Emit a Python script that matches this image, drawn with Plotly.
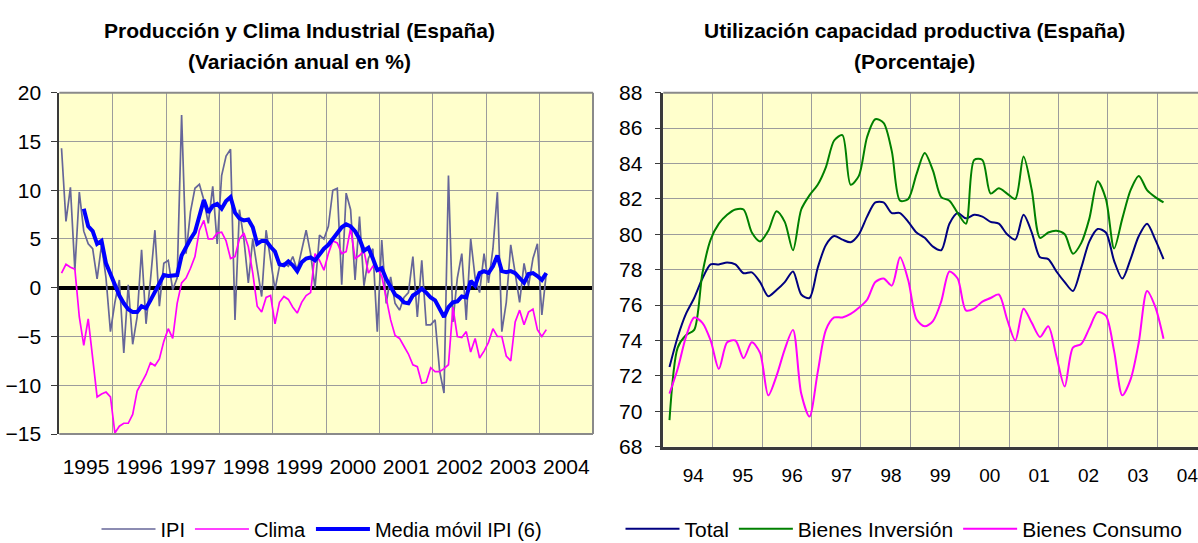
import plotly.graph_objects as go

# ---------------- Left chart data (monthly, Jan 1995 - Feb 2004) ----------------
ipi = [14.3, 6.8, 10.3, 1.8, 9.8, 5.8, 4.5, 4.0, 0.9, 4.4,
       1.0, -4.5, -1.5, 0.8, -6.7, 0.3, -5.8, -3.0, 3.9, -3.7,
       0.8, 5.9, -1.9, 2.5, 2.8, -0.2, 1.0, 17.7, 3.5, 7.8,
       10.2, 10.6, 9.0, 6.6, 10.4, 4.5, 11.5, 13.5, 14.2, -3.3,
       8.0, 5.0, 0.5, 5.0, 2.0, -0.9, 5.9, 3.0, -0.2, 2.2,
       2.5, 2.2, 3.2, 1.8, 4.0, 5.9, 3.5, 0.0, 5.4, 5.0,
       6.3, 10.0, 10.2, 0.3, 9.7, 8.0, 0.8, 7.3, 0.2, 3.0,
       4.0, -4.5, 4.9, -1.6, 1.1, -1.6, -2.3, -1.0, -0.5, 3.2,
       -3.0, 2.8, -3.8, -3.8, -3.3, -8.5, -10.8, 11.5, -3.5, 1.0,
       3.5, -3.3, 5.0, 1.0, -0.5, 3.5, 0.5, 4.0, 9.8, -4.5,
       -1.5, 4.4, 1.5, -1.5, 2.5, 0.2, 3.0, 4.5, -2.8, 1.5]

clima = [1.5, 2.4, 2.1, 1.9, -3.0, -5.9, -3.2, -7.5, -11.2, -10.9,
         -10.7, -11.2, -14.9, -14.2, -13.9, -13.9, -13.0, -10.6, -9.8, -8.9,
         -7.7, -8.0, -7.3, -5.5, -4.2, -5.2, -1.6, 0.5, 1.0, 2.0,
         3.2, 5.9, 6.9, 5.0, 5.0, 5.6, 5.7, 4.8, 3.0, 3.2,
         5.0, 5.6, 4.2, 1.5, -1.9, -2.5, -1.0, -0.8, -3.7, -1.5,
         -0.9, -1.2, -2.0, -2.6, -1.5, -0.8, -0.5, 3.5, 2.8, 1.8,
         3.5, 4.8, 4.6, 3.5, 3.7, 6.1, 3.0, 3.3, 3.8, 1.5,
         2.2, 2.0, 1.2, -1.2, -3.3, -4.9, -5.2, -6.0, -6.8, -7.9,
         -8.1, -9.8, -9.7, -8.2, -8.6, -8.6, -8.3, -7.9, -2.0, -5.0,
         -5.1, -4.5, -6.6, -5.2, -7.2, -6.5, -5.6, -4.2, -5.0, -5.0,
         -7.0, -7.5, -3.5, -2.3, -3.8, -2.5, -2.2, -4.3, -5.0, -4.3]

media_movil = [None, None, None, None, None, 8.1, 6.3, 5.8, 4.5, 4.8,
               2.5, 1.4, 0.3, -0.8, -1.6, -2.2, -2.5, -2.5, -1.9, -2.1,
               -1.3, -0.4, 0.5, 1.3, 1.2, 1.3, 1.3, 3.3, 4.2, 5.0,
               5.7, 7.2, 9.0, 7.7, 8.4, 8.6, 8.1, 8.9, 9.3, 7.7,
               7.1, 6.9, 7.0, 6.2, 4.5, 4.8, 4.8, 4.2, 3.7, 2.4,
               2.3, 2.7, 2.3, 1.7, 2.6, 3.0, 3.1, 2.8, 3.4, 4.0,
               4.4, 5.0, 5.6, 6.2, 6.5, 6.3, 5.8, 5.0, 3.8, 4.1,
               3.0, 1.8, 2.0, 0.9, 0.1, -0.7, -1.0, -1.5, -1.6, -0.8,
               -0.5, -0.1, -0.5, -1.0, -1.3, -2.1, -3.0, -2.0, -1.5, -1.4,
               -0.9, -1.0, 0.7, 0.2, 1.5, 1.7, 1.5, 2.2, 3.3, 1.7,
               1.6, 1.7, 1.5, 1.0, 0.5, 1.4, 1.5, 1.2, 0.8, 1.5]

anios_izq = ['1995', '1996', '1997', '1998', '1999',
             '2000', '2001', '2002', '2003', '2004']

# ---------------- Right chart data (every two months) ----------------
total = [72.5, 74.2, 75.5, 76.4, 77.5, 78.3, 78.3, 78.4, 78.3, 77.8,
         77.85, 77.3, 76.5, 76.85, 77.3, 77.9, 76.6, 76.4, 78.1, 79.4,
         79.9, 79.7, 79.55, 80.0, 81.0, 81.8, 81.8, 81.2, 81.2, 80.7,
         80.1, 79.8, 79.3, 79.1, 80.6, 81.2, 80.9, 81.1, 81.0, 80.7,
         80.6, 80.0, 79.7, 81.1, 80.1, 78.7, 78.6, 77.9, 77.3, 76.8,
         78.1, 79.6, 80.3, 80.1, 78.5, 77.5, 78.6, 79.9, 80.6, 79.7,
         78.6]

bienes_inversion = [69.5, 73.6, 74.3, 74.6, 77.8, 79.7, 80.6, 81.1, 81.4, 81.4,
                    80.1, 79.6, 80.2, 81.3, 80.7, 79.1, 81.4, 82.2, 82.8, 83.8,
                    85.3, 85.6, 82.8, 83.3, 85.5, 86.5, 86.3, 84.7, 81.9, 82.0,
                    83.4, 84.6, 83.6, 82.1, 81.9, 81.2, 80.6, 84.2, 84.2, 82.3,
                    82.6, 82.3, 82.0, 84.4, 82.5, 79.8, 80.1, 80.2, 80.0, 78.9,
                    79.5, 80.9, 83.0, 82.0, 79.2, 80.9, 82.5, 83.3, 82.5, 82.1,
                    81.8]

bienes_consumo = [71.0, 72.4, 74.2, 75.3, 75.0, 74.0, 72.4, 73.9, 74.0, 73.0,
                  73.9, 73.3, 70.9, 72.0, 73.5, 74.6, 71.0, 69.7, 72.2, 74.6,
                  75.3, 75.3, 75.5, 75.85, 76.3, 77.3, 77.5, 77.1, 78.7, 77.4,
                  75.2, 74.8, 75.1, 76.2, 77.9, 77.5, 75.7, 75.8, 76.2, 76.4,
                  76.6, 75.2, 74.0, 75.8, 75.0, 74.2, 74.8, 73.1, 71.4, 73.6,
                  73.8, 74.7, 75.6, 75.4, 73.4, 70.9, 71.8, 73.9, 76.8, 75.9,
                  74.1]

anios_der = ['94', '95', '96', '97', '98', '99', '00', '01', '02', '03', '04']

# category positions (month index from the start of each axis)
x_izq = [i + 0.5 for i in range(len(ipi))]
x_der = [1.5 + 2 * k for k in range(len(total))]

FONT = 'Liberation Sans, Arial, sans-serif'
GRID = '#9c9c9c'
FRAME = '#8a8a8a'
AXIS = '#3a3a3a'

W, H = 1198, 543

fig = go.Figure()

fig.add_trace(go.Scatter(x=x_izq, y=ipi, mode='lines', name='IPI',
                         line=dict(color='#666699', width=1.7),
                         xaxis='x', yaxis='y', legend='legend'))
fig.add_trace(go.Scatter(x=x_izq, y=clima, mode='lines', name='Clima',
                         line=dict(color='#FF00FF', width=1.7),
                         xaxis='x', yaxis='y', legend='legend'))
fig.add_trace(go.Scatter(x=x_izq, y=media_movil, mode='lines', name='Media móvil IPI (6)',
                         line=dict(color='#0000FF', width=4),
                         xaxis='x', yaxis='y', legend='legend'))

fig.add_trace(go.Scatter(x=x_der, y=total, mode='lines', name='Total',
                         line=dict(color='#000080', width=2, shape='spline', smoothing=0.8),
                         xaxis='x2', yaxis='y2', legend='legend2'))
fig.add_trace(go.Scatter(x=x_der, y=bienes_inversion, mode='lines', name='Bienes Inversión',
                         line=dict(color='#008000', width=2, shape='spline', smoothing=0.8),
                         xaxis='x2', yaxis='y2', legend='legend2'))
fig.add_trace(go.Scatter(x=x_der, y=bienes_consumo, mode='lines', name='Bienes Consumo',
                         line=dict(color='#FF00FF', width=2, shape='spline', smoothing=0.8),
                         xaxis='x2', yaxis='y2', legend='legend2'))

# plot-area geometry (pixels -> paper fractions)
L1, R1, T1, B1 = 59.3, 593.0, 92.7, 434.0
L2, T2, B2 = 663.3, 92.7, 446.7

fig.update_layout(
    width=W, height=H,
    margin=dict(l=0, r=0, t=0, b=0, autoexpand=False),
    paper_bgcolor='white',
    plot_bgcolor='#FFFFCC',
    font=dict(family=FONT, size=20, color='black'),
    showlegend=True,
    xaxis=dict(domain=[L1 / W, R1 / W], range=[0, 120], anchor='y',
               tickmode='array', tickvals=[12 * k + 6 for k in range(len(anios_izq))],
               ticktext=anios_izq, showgrid=False, zeroline=False, showline=False,
               ticks='', tickfont=dict(size=21), ticklabelstandoff=18,
               minor=dict(tickmode='array', tickvals=list(range(0, 121, 12)),
                          showgrid=True, gridcolor=GRID, gridwidth=1.2, ticks='')),
    yaxis=dict(domain=[1 - B1 / H, 1 - T1 / H], range=[-15, 20], anchor='x',
               tickmode='linear', tick0=-15, dtick=5,
               showgrid=True, gridcolor=GRID, gridwidth=1.2,
               zeroline=True, zerolinecolor='black', zerolinewidth=3.5,
               showline=True, linecolor=AXIS, linewidth=2,
               ticks='outside', ticklen=6, tickcolor=AXIS, tickwidth=1.2,
               tickfont=dict(size=21), ticklabelstandoff=6),
    xaxis2=dict(domain=[L2 / W, 1.0], range=[0, (W - L2) / 4.117], anchor='y2',
                tickmode='array', tickvals=[12 * k + 7.3 for k in range(len(anios_der))],
                ticktext=anios_der, showgrid=False, zeroline=False,
                showline=True, linecolor=AXIS, linewidth=2.5,
                ticks='', tickfont=dict(size=19), ticklabelstandoff=10,
                ticklabeloverflow='allow',
                minor=dict(tickmode='array', tickvals=list(range(0, 121, 12)),
                           showgrid=True, gridcolor=GRID, gridwidth=1.2, ticks='')),
    yaxis2=dict(domain=[1 - B2 / H, 1 - T2 / H], range=[68, 88], anchor='x2',
                tickmode='linear', tick0=68, dtick=2,
                showgrid=True, gridcolor=GRID, gridwidth=1.2, zeroline=False,
                showline=True, linecolor=AXIS, linewidth=2.5,
                ticks='outside', ticklen=6, tickcolor=AXIS, tickwidth=1.2,
                tickfont=dict(size=21), ticklabelstandoff=8),
    legend=dict(orientation='h', x=322 / W, xanchor='center', y=1 - 529 / H, yanchor='middle',
                font=dict(size=20), bgcolor='rgba(0,0,0,0)', itemwidth=54,
                tracegroupgap=0, itemclick=False),
    legend2=dict(orientation='h', x=904 / W, xanchor='center', y=1 - 529 / H, yanchor='middle',
                 font=dict(size=21), bgcolor='rgba(0,0,0,0)', itemwidth=54,
                 tracegroupgap=0, itemclick=False),
)

# plot frames (grey borders)
frame_line = dict(color=FRAME, width=2)
for x0, y0, x1, y1 in [(0, 0, 1, 0), (1, 0, 1, 1), (0, 1, 1, 1)]:
    fig.add_shape(type='line', xref='x domain', yref='y domain',
                  x0=x0, y0=y0, x1=x1, y1=y1, line=frame_line, layer='above')
fig.add_shape(type='line', xref='x2 domain', yref='y2 domain',
              x0=0, y0=1, x1=1, y1=1, line=frame_line, layer='above')

# titles
titles = [
    ('<b>Producción y Clima Industrial (España)</b>', 299.5, 31),
    ('<b>(Variación anual en %)</b>', 299.5, 61),
    ('<b>Utilización capacidad productiva (España)</b>', 914.5, 31),
    ('<b>(Porcentaje)</b>', 914.5, 61),
]
for text, xc, yc in titles:
    fig.add_annotation(text=text, xref='paper', yref='paper', x=xc / W, y=1 - yc / H,
                       xanchor='center', yanchor='middle', showarrow=False,
                       font=dict(family=FONT, size=21, color='black'))

fig.write_html('out.html',
               config={'displayModeBar': False},
               post_script="document.body.style.margin='0';document.body.style.overflow='hidden';")
